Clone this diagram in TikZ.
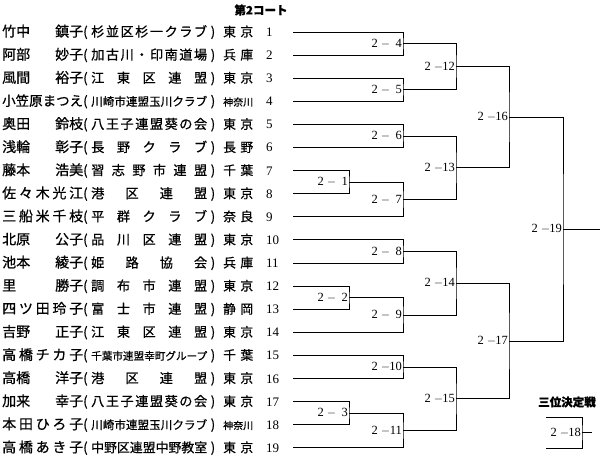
\documentclass[tikz,border=0pt]{standalone}
\usepackage{fontspec}
\usepackage{graphicx}
\newfontfamily\jp{Noto Sans CJK JP}[FakeBold=0.6]
\newfontfamily\numfont{Liberation Serif}

% column widths of one entry row
\newdimen\namew \namew=81pt
\newdimen\affw  \affw=116pt
\newdimen\prefw \prefw=30pt
\newdimen\fitlen

% put \hfill between the characters of a word
\def\spreadchars#1{\spreadA#1\relax}
\def\spreadA#1#2\relax{#1\ifx\relax#2\relax\else\hfill\spreadA#2\relax\fi}

% spread a word over a width, or shrink it when it is too long
\newcommand\fitbox[2]{%
	\settowidth\fitlen{#2}%
	\ifdim\fitlen>#1\relax
		\resizebox{#1}{!}{#2}%
	\else
		\makebox[#1][s]{\spreadchars{#2}}%
	\fi}

\newcommand\pname[2]{{\fontsize{14}{14}\selectfont
	\if\relax\detokenize{#2}\relax\fitbox{\namew}{#1}\else\makebox[\namew][s]{#1\hfill#2}\fi}}
\newcommand\paff[1]{{\fontsize{13.2}{13}\selectfont
	\makebox[8pt][l]{(}\fitbox{\affw}{#1}\makebox[8pt][r]{)}}}
\newcommand\ppref[1]{{\fontsize{12.8}{13}\selectfont
	\hspace{8pt}\fitbox{\prefw}{#1}\hspace{13pt}}}
\newcommand\pnum[1]{\makebox[27pt][l]{\numfont\fontsize{13}{13}\selectfont #1}}
\newcommand\mno[1]{2\kern3pt$-$\kern1pt\makebox[10.5pt][r]{#1}}

\begin{document}
\begin{tikzpicture}[
	x=1pt,y=-1pt,
	entry/.style={
		anchor=west,
		inner sep=0pt,
		text height=11pt,
		text depth=2pt,
		font=\jp
	},
	match/.style={
		anchor=east,
		inner sep=1pt,
		font=\numfont\fontsize{12.5}{12}\selectfont
	},
	heading/.style={
		inner sep=0pt,
		font=\jp\bfseries\fontsize{11.5}{12}\selectfont
	},
	link/.style={
		line width=0.8pt,
		draw=black
	}
	]
	
	\useasboundingbox (0,0) rectangle (600,457);
	
	% Headings
	\node[heading] (court) at (261,10) {第2コート};
	\node[heading] (third) at (567,402) {三位決定戦};
	
	% Players
	\node[entry] (p1) at (2,32.0) {\pname{竹中}{鎮子}\paff{杉並区杉一クラブ}\ppref{東京}\pnum{1}};
	\node[entry] (p2) at (2,55.1) {\pname{阿部}{妙子}\paff{加古川・印南道場}\ppref{兵庫}\pnum{2}};
	\node[entry] (p3) at (2,78.2) {\pname{風間}{裕子}\paff{江東区連盟}\ppref{東京}\pnum{3}};
	\node[entry] (p4) at (2,101.3) {\pname{小笠原まつえ}{}\paff{川崎市連盟玉川クラブ}\ppref{神奈川}\pnum{4}};
	\node[entry] (p5) at (2,124.4) {\pname{奥田}{鈴枝}\paff{八王子連盟葵の会}\ppref{東京}\pnum{5}};
	\node[entry] (p6) at (2,147.5) {\pname{浅輪}{彰子}\paff{長野クラブ}\ppref{長野}\pnum{6}};
	\node[entry] (p7) at (2,170.6) {\pname{藤本}{浩美}\paff{習志野市連盟}\ppref{千葉}\pnum{7}};
	\node[entry] (p8) at (2,193.7) {\pname{佐々木光江}{}\paff{港区連盟}\ppref{東京}\pnum{8}};
	\node[entry] (p9) at (2,216.8) {\pname{三船米千枝}{}\paff{平群クラブ}\ppref{奈良}\pnum{9}};
	\node[entry] (p10) at (2,239.9) {\pname{北原}{公子}\paff{品川区連盟}\ppref{東京}\pnum{10}};
	\node[entry] (p11) at (2,263.0) {\pname{池本}{綾子}\paff{姫路協会}\ppref{兵庫}\pnum{11}};
	\node[entry] (p12) at (2,286.1) {\pname{里}{勝子}\paff{調布市連盟}\ppref{東京}\pnum{12}};
	\node[entry] (p13) at (2,309.2) {\pname{四ツ田玲子}{}\paff{富士市連盟}\ppref{静岡}\pnum{13}};
	\node[entry] (p14) at (2,332.3) {\pname{吉野}{正子}\paff{江東区連盟}\ppref{東京}\pnum{14}};
	\node[entry] (p15) at (2,355.4) {\pname{高橋チカ子}{}\paff{千葉市連盟幸町グループ}\ppref{千葉}\pnum{15}};
	\node[entry] (p16) at (2,378.5) {\pname{高橋}{洋子}\paff{港区連盟}\ppref{東京}\pnum{16}};
	\node[entry] (p17) at (2,401.6) {\pname{加来}{幸子}\paff{八王子連盟葵の会}\ppref{東京}\pnum{17}};
	\node[entry] (p18) at (2,424.7) {\pname{本田ひろ子}{}\paff{川崎市連盟玉川クラブ}\ppref{神奈川}\pnum{18}};
	\node[entry] (p19) at (2,447.8) {\pname{高橋あき子}{}\paff{中野区連盟中野教室}\ppref{東京}\pnum{19}};
	
	% First round
	\node[match] (m1) at (349,182.2) {\mno{1}};
	\node[match] (m2) at (349,297.7) {\mno{2}};
	\node[match] (m3) at (349,413.2) {\mno{3}};
	
	% Second round
	\node[match] (m4) at (403,43.6) {\mno{4}};
	\node[match] (m5) at (403,89.8) {\mno{5}};
	\node[match] (m6) at (403,136.0) {\mno{6}};
	\node[match] (m7) at (403,199.5) {\mno{7}};
	\node[match] (m8) at (403,251.5) {\mno{8}};
	\node[match] (m9) at (403,315.0) {\mno{9}};
	\node[match] (m10) at (403,367.0) {\mno{10}};
	\node[match] (m11) at (403,430.5) {\mno{11}};
	
	% Third round
	\node[match] (m12) at (456,66.7) {\mno{12}};
	\node[match] (m13) at (456,167.7) {\mno{13}};
	\node[match] (m14) at (456,283.2) {\mno{14}};
	\node[match] (m15) at (456,398.7) {\mno{15}};
	
	% Semi finals and final
	\node[match] (m16) at (509,117.2) {\mno{16}};
	\node[match] (m17) at (509,341.0) {\mno{17}};
	\node[match] (m19) at (563,229.1) {\mno{19}};
	\coordinate (winner) at (600,229.1);
	
	% Third place
	\node[match] (m18) at (582,432.5) {\mno{18}};
	\coordinate (semiA) at (546,417);
	\coordinate (semiB) at (546,448);
	\coordinate (bronze) at (592,432.5);
	
	% Bracket lines
	\draw[link] (p7.east) -| (m1.east) |- (p8.east);
	\draw[link] (p12.east) -| (m2.east) |- (p13.east);
	\draw[link] (p17.east) -| (m3.east) |- (p18.east);
	
	\draw[link] (p1.east) -| (m4.east) |- (p2.east);
	\draw[link] (p3.east) -| (m5.east) |- (p4.east);
	\draw[link] (p5.east) -| (m6.east) |- (p6.east);
	\draw[link] (m1.east) -| (m7.east) |- (p9.east);
	\draw[link] (p10.east) -| (m8.east) |- (p11.east);
	\draw[link] (m2.east) -| (m9.east) |- (p14.east);
	\draw[link] (p15.east) -| (m10.east) |- (p16.east);
	\draw[link] (m3.east) -| (m11.east) |- (p19.east);
	
	\draw[link] (m4.east) -| (m12.east) |- (m5.east);
	\draw[link] (m6.east) -| (m13.east) |- (m7.east);
	\draw[link] (m8.east) -| (m14.east) |- (m9.east);
	\draw[link] (m10.east) -| (m15.east) |- (m11.east);
	
	\draw[link] (m12.east) -| (m16.east) |- (m13.east);
	\draw[link] (m14.east) -| (m17.east) |- (m15.east);
	
	\draw[link] (m16.east) -| (m19.east) |- (m17.east);
	\draw[link] (m19.east) -- (winner);
	
	\draw[link] (semiA) -| (m18.east) |- (semiB);
	\draw[link] (m18.east) -- (bronze);
	
\end{tikzpicture}
\end{document}
